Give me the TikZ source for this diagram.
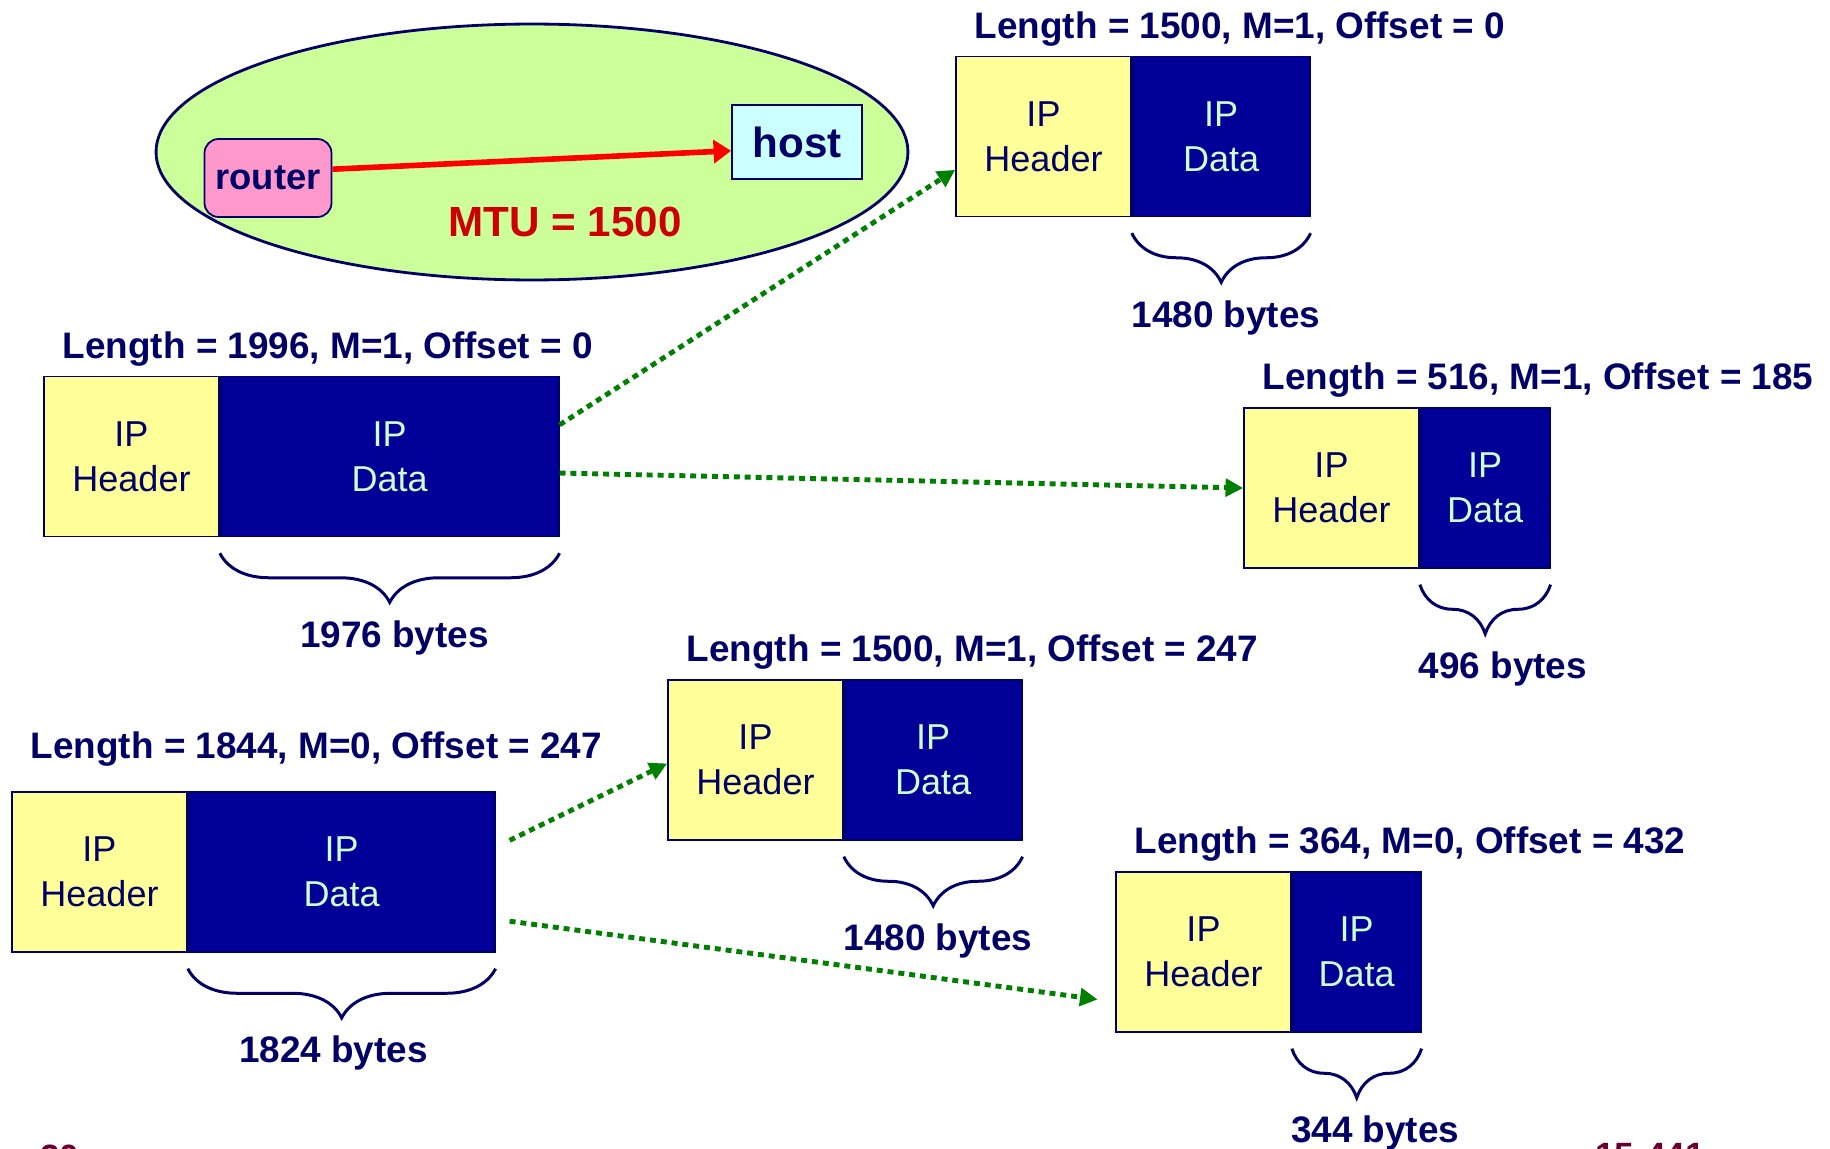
\documentclass[tikz,border=0pt]{standalone}
\usepackage{fontspec}
\setmainfont{Liberation Sans}
\usetikzlibrary{positioning,shapes.geometric,arrows.meta,decorations.pathreplacing}
\definecolor{navy}{HTML}{000066}
\definecolor{datblue}{HTML}{000099}
\definecolor{hdryellow}{HTML}{FFFF99}
\definecolor{datgreen}{HTML}{CCFFCC}
\definecolor{zonegreen}{HTML}{CCFF99}
\definecolor{routerpink}{HTML}{FF99CC}
\definecolor{hostblue}{HTML}{CCFFFF}
\definecolor{mtured}{HTML}{CC0000}
\definecolor{arrgreen}{HTML}{008000}
\definecolor{footred}{HTML}{660033}

\begin{document}
\begin{tikzpicture}[x=0.02cm,y=-0.02cm]
\tikzset{hdr/.style={draw=navy,line width=1pt,fill=hdryellow,text=navy,minimum width=3.5cm,minimum height=3.2cm,align=center,inner sep=0pt,font=\fontsize{20.5}{25.8}\selectfont},
  dat/.style={draw=navy,line width=1pt,fill=datblue,text=datgreen,minimum height=3.2cm,align=center,inner sep=0pt,font=\fontsize{20.5}{25.8}\selectfont},
  lbl/.style={text=navy,inner sep=0pt,font=\fontsize{21}{25}\selectfont\bfseries},
  brc/.style={draw=navy,line width=1.7pt,decorate,decoration={brace,amplitude=28pt}},
  frag/.style={draw=arrgreen,line width=2.8pt,dash pattern=on 3.4pt off 2.8pt,-{Triangle[length=10pt,width=10pt]}}}
\useasboundingbox (0,0) rectangle (1830,1149);

% router -> host
\path (532,152) node[ellipse,draw=navy,line width=1.6pt,fill=zonegreen,minimum width=15.04cm,minimum height=5.12cm] (zone) {};
\path (268,178) node[draw=navy,line width=1pt,fill=routerpink,rounded corners=8pt,minimum width=2.54cm,minimum height=1.56cm,text=navy,font=\fontsize{20.7}{24}\selectfont\bfseries] (router) {router};
\path (797,142) node[draw=navy,line width=1pt,fill=hostblue,minimum width=2.6cm,minimum height=1.48cm,text=navy,font=\fontsize{24}{28}\selectfont\bfseries] (host) {host};
\path (565,222) node[text=mtured,font=\fontsize{24}{28}\selectfont\bfseries] (mtu) {MTU = 1500};
\draw[red,line width=3.2pt,-{Triangle[length=10pt,width=13pt]}] ([yshift=5pt]router.east) -- ([yshift=-5pt]host.west);

% original packet
\path (131.5,456.5) node[hdr] (hdrA) {IP\\Header};
\node[dat,minimum width=6.76cm,right=0pt of hdrA] (datA) {IP\\Data};
\node[lbl,anchor=south west] (lenA) at ([xshift=11pt,yshift=5.2pt]hdrA.north west) {Length = 1996, M=1, Offset = 0};
\draw[brc] ([yshift=-9pt]datA.south east) -- ([yshift=-9pt]datA.south west);
\node[lbl,below=47pt of datA,xshift=2.7pt] (bytA) {1976 bytes};

% first fragment
\path (1043.5,136.5) node[hdr] (hdrB) {IP\\Header};
\node[dat,minimum width=3.54cm,right=0pt of hdrB] (datB) {IP\\Data};
\node[lbl,anchor=south west] (lenB) at ([xshift=11pt,yshift=5.2pt]hdrB.north west) {Length = 1500, M=1, Offset = 0};
\draw[brc] ([yshift=-9pt]datB.south east) -- ([yshift=-9pt]datB.south west);
\node[lbl,below=47pt of datB,xshift=2.7pt] (bytB) {1480 bytes};

% second fragment
\path (1331.5,488) node[hdr] (hdrC) {IP\\Header};
\node[dat,minimum width=2.58cm,right=0pt of hdrC] (datC) {IP\\Data};
\node[lbl,anchor=south west] (lenC) at ([xshift=11pt,yshift=5.2pt]hdrC.north west) {Length = 516, M=1, Offset = 185};
\draw[brc] ([yshift=-9pt]datC.south east) -- ([yshift=-9pt]datC.south west);
\node[lbl,below=47pt of datC,xshift=10pt] (bytC) {496 bytes};

% last fragment, split again
\path (99.5,872) node[hdr] (hdrD) {IP\\Header};
\node[dat,minimum width=6.12cm,right=0pt of hdrD] (datD) {IP\\Data};
\node[lbl,anchor=south west] (lenD) at ([xshift=11pt,yshift=14pt]hdrD.north west) {Length = 1844, M=0, Offset = 247};
\draw[brc] ([yshift=-9pt]datD.south east) -- ([yshift=-9pt]datD.south west);
\node[lbl,below=47pt of datD,xshift=-4.7pt] (bytD) {1824 bytes};

\path (755.5,760) node[hdr] (hdrE) {IP\\Header};
\node[dat,minimum width=3.54cm,right=0pt of hdrE] (datE) {IP\\Data};
\node[lbl,anchor=south west] (lenE) at ([xshift=11pt,yshift=5.2pt]hdrE.north west) {Length = 1500, M=1, Offset = 247};
\draw[brc] ([yshift=-9pt]datE.south east) -- ([yshift=-9pt]datE.south west);
\node[lbl,below=47pt of datE,xshift=2.7pt] (bytE) {1480 bytes};

\path (1203.5,952) node[hdr] (hdrF) {IP\\Header};
\node[dat,minimum width=2.56cm,right=0pt of hdrF] (datF) {IP\\Data};
\node[lbl,anchor=south west] (lenF) at ([xshift=11pt,yshift=5.2pt]hdrF.north west) {Length = 364, M=0, Offset = 432};
\draw[brc] ([yshift=-9pt]datF.south east) -- ([yshift=-9pt]datF.south west);
\node[lbl,below=47pt of datF,xshift=10.5pt] (bytF) {344 bytes};

% fragmentation arrows
\draw[frag] ([yshift=18pt]datA.east) -- ([yshift=-19pt]hdrB.west);
\draw[frag] ([yshift=-9.4pt]datA.east) -- (hdrC.west);
\draw[frag] ([xshift=8pt,yshift=18pt]datD.east) -- ([yshift=-2pt]hdrE.west);
\draw[frag] ([xshift=8pt,yshift=-28pt]datD.east) -- ([xshift=-10pt,yshift=-27pt]hdrF.west);

% footer, cut off at the page edge
\path (40,1145) node[anchor=north west,inner sep=0pt,text=footred,font=\fontsize{20}{24}\selectfont\bfseries] (pgno) {20};
\path (1595,1143) node[anchor=north west,inner sep=0pt,text=footred,font=\fontsize{20}{24}\selectfont\bfseries] (course) {15-441};
\end{tikzpicture}
\end{document}
